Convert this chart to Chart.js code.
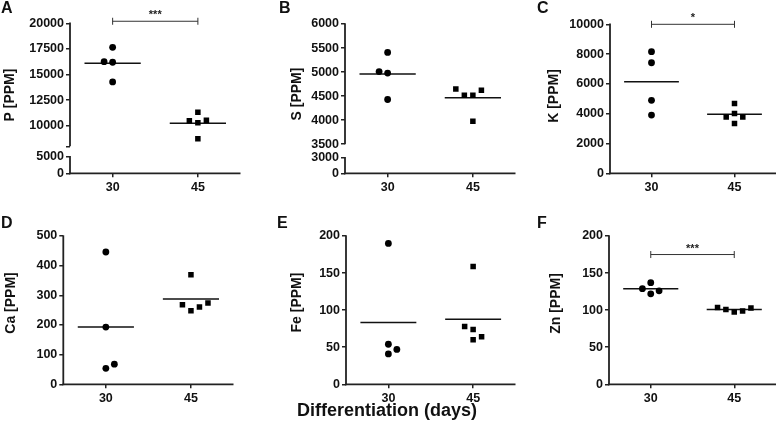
<!DOCTYPE html>
<html>
<head>
<meta charset="utf-8">
<script src="https://cdn.jsdelivr.net/npm/chart.js@4.4.0/dist/chart.umd.min.js"></script>
<style>
  body { margin: 0; background: #fff; }
  #fig { position: relative; width: 781px; height: 435px; overflow: hidden;
         font-family: 'Liberation Sans', Arial, sans-serif; font-weight: bold; color: #111; }
  #fig canvas { position: absolute; }
  .lbl { position: absolute; font-size: 16px; line-height: 1; }
  #xt { position: absolute; left: 387px; top: 401px; transform: translateX(-50%);
        font-size: 18px; line-height: 1; white-space: nowrap; }
</style>
</head>
<body>
<div id="fig">
  <canvas id="cA" width="260" height="200" style="left:0;top:0"></canvas>
  <canvas id="cB" width="260" height="200" style="left:260px;top:0"></canvas>
  <canvas id="cC" width="261" height="200" style="left:520px;top:0"></canvas>
  <canvas id="cD" width="260" height="210" style="left:0;top:200px"></canvas>
  <canvas id="cE" width="260" height="210" style="left:260px;top:200px"></canvas>
  <canvas id="cF" width="261" height="210" style="left:520px;top:200px"></canvas>
  <div class="lbl" style="left:1px;top:0">A</div>
  <div class="lbl" style="left:279px;top:0">B</div>
  <div class="lbl" style="left:537px;top:0">C</div>
  <div class="lbl" style="left:1px;top:215px">D</div>
  <div class="lbl" style="left:277px;top:215px">E</div>
  <div class="lbl" style="left:537px;top:215px">F</div>
  <div id="xt">Differentiation (days)</div>
</div>
<script>
// groups on the x axis
const days = ['30', '45'];

// P
const p30 = [17660, 16260, 16200, 14280];
const p45 = [11330, 10490, 10290, 10550, 8730];
const p30Jit = [0, -0.1, 0, 0];
const p45Jit = [0, -0.1, 0, 0.1, 0];
const pMeans = [16100, 10260];
const pTicks = [8000, 10000, 12500, 15000, 17500, 20000];
const pTickLabels = ['', '10000', '12500', '15000', '17500', '20000'];
const pLowTicks = [0, 5000];
const pLowLabels = ['0', '5000'];

// S
const s30 = [5410, 5010, 4980, 4430];
const s45 = [4650, 4520, 4520, 4625, 3980];
const s30Jit = [0, -0.1, 0, 0];
const s45Jit = [-0.2, -0.1, 0, 0.1, 0];
const sMeans = [4958, 4465];
const sTicks = [3500, 4000, 4500, 5000, 5500, 6000];
const sTickLabels = ['3500', '4000', '4500', '5000', '5500', '6000'];
const sLowTicks = [0, 3000];
const sLowLabels = ['0', '3000'];

// K
const k30 = [8160, 7420, 4900, 3910];
const k45 = [4680, 3780, 4010, 3780, 3340];
const k30Jit = [0, 0, 0, 0];
const k45Jit = [0, -0.1, 0, 0.1, 0];
const kMeans = [6150, 3960];
const kTicks = [0, 2000, 4000, 6000, 8000, 10000];
const kTickLabels = ['0', '2000', '4000', '6000', '8000', '10000'];

// Ca
const ca30 = [446, 193, 54, 68];
const ca45 = [369, 268, 248, 261, 274];
const ca30Jit = [0, 0, 0, 0.1];
const ca45Jit = [0, -0.1, 0, 0.1, 0.2];
const caMeans = [193, 288];
const caTicks = [0, 100, 200, 300, 400, 500];
const caTickLabels = ['0', '100', '200', '300', '400', '500'];

// Fe
const fe30 = [190, 54, 41, 47];
const fe45 = [159, 78, 74, 60, 64];
const fe30Jit = [0, 0, 0, 0.1];
const fe45Jit = [0, -0.1, 0, 0, 0.1];
const feMeans = [83.5, 87.6];
const feTicks = [0, 50, 100, 150, 200];
const feTickLabels = ['0', '50', '100', '150', '200'];

// Zn
const zn30 = [137, 129, 122, 126];
const zn45 = [103.5, 100.8, 97.4, 98.7, 102.8];
const zn30Jit = [0, -0.1, 0, 0.1];
const zn45Jit = [-0.2, -0.1, 0, 0.1, 0.2];
const znMeans = [129, 100.8];
const znTicks = [0, 50, 100, 150, 200];
const znTickLabels = ['0', '50', '100', '150', '200'];

// significance brackets
const pSig = 20200, pSigText = '***';
const kSig = 10000, kSigText = '*';
const znSig = 175, znSigText = '***';

const FONT = "'Liberation Sans', Arial, sans-serif";
const AXIS = '#222';
Chart.defaults.font.family = FONT;
Chart.defaults.font.weight = 'bold';
Chart.defaults.color = '#111';

function pts(vals, jit, pos) {
  return vals.map((v, i) => ({ x: pos + jit[i], y: v }));
}

function meanLine(pos, m) {
  return {
    data: [{ x: pos - 0.33, y: m }, { x: pos + 0.33, y: m }],
    showLine: true, pointRadius: 0, borderColor: '#111', borderWidth: 1.5
  };
}

function yAxis(o, min, max, ticks, labels) {
  return {
    type: 'linear', position: 'left', min: min, max: max,
    afterBuildTicks: s => { s.ticks = ticks.map(v => ({ value: v })); },
    afterFit: s => { s.width = o.area[0]; },
    grid: { display: true, drawOnChartArea: false, drawTicks: true, tickLength: 4, lineWidth: 1.5, color: AXIS },
    border: { display: false },
    ticks: { autoSkip: false, padding: 2, color: '#111', font: { size: 12.5, weight: 'bold' },
             callback: (v, i) => labels[i] }
  };
}

function line(ctx, x1, y1, x2, y2) {
  ctx.beginPath();
  ctx.moveTo(x1, y1);
  ctx.lineTo(x2, y2);
  ctx.stroke();
}

function panel(id, o) {
  const canvas = document.getElementById(id);
  const W = canvas.width, H = canvas.height;
  const [left, top, right, bottom] = o.area;

  const datasets = [
    { data: pts(o.d30, o.j30, 1), pointStyle: 'circle', pointRadius: 3.4, backgroundColor: '#000', borderWidth: 0 },
    { data: pts(o.d45, o.j45, 2), pointStyle: 'rect', pointRadius: 3.9, backgroundColor: '#000', borderWidth: 0 },
    meanLine(1, o.means[0]),
    meanLine(2, o.means[1])
  ];
  if (o.sig !== undefined) {
    datasets.push({
      data: [{ x: 1, y: o.sig }, { x: 2, y: o.sig }],
      showLine: true, clip: false, borderColor: '#333', borderWidth: 1,
      pointStyle: 'line', pointRotation: 90, pointRadius: 3.5,
      pointBorderColor: '#333', pointBorderWidth: 1
    });
  }

  const scales = {
    x: {
      type: 'linear', min: 0.5, max: 2.5,
      afterBuildTicks: s => { s.ticks = [{ value: 1 }, { value: 2 }]; },
      afterFit: s => { s.height = H - bottom; },
      grid: { display: true, drawOnChartArea: false, drawTicks: true, tickLength: 4, lineWidth: 1.5, color: AXIS },
      border: { display: false },
      ticks: { autoSkip: false, padding: 3, color: '#111', font: { size: 12.5, weight: 'bold' },
               maxRotation: 0, callback: (v, i) => days[i] }
    },
    y: yAxis(o, o.min, o.max, o.ticks, o.labels)
  };
  if (o.low) {
    Object.assign(scales.y, { stack: 'brk', stackWeight: o.low.topW, weight: 2 });
    scales.yLow = Object.assign(yAxis(o, 0, o.low.max, o.low.ticks, o.low.labels),
      { stack: 'brk', stackWeight: o.low.lowW, weight: 1 });
  }

  const extras = {
    id: 'extras',
    beforeDatasetsDraw(chart) {
      // axis lines, with a gap where the y axis is broken
      const ctx = chart.ctx;
      const ys = chart.scales.y, xs = chart.scales.x;
      ctx.save();
      ctx.strokeStyle = AXIS;
      ctx.lineWidth = 1.8;
      line(ctx, ys.right, ys.top - 0.75, ys.right, o.low ? ys.bottom : ys.bottom + 0.9);
      if (o.low) {
        const lo = chart.scales.yLow;
        line(ctx, lo.right, lo.getPixelForValue(o.low.ticks[o.low.ticks.length - 1]) - 0.75, lo.right, lo.bottom + 0.9);
      }
      line(ctx, xs.left - 0.9, xs.top, xs.right, xs.top);
      ctx.restore();
    },
    afterDraw(chart) {
      const ctx = chart.ctx;
      const ys = chart.scales.y, xs = chart.scales.x;
      // significance stars
      if (o.sig !== undefined) {
        ctx.save();
        ctx.fillStyle = '#222';
        ctx.font = 'bold 11px ' + FONT;
        ctx.textAlign = 'center';
        ctx.textBaseline = 'alphabetic';
        ctx.fillText(o.sigText, xs.getPixelForValue(1.5), ys.getPixelForValue(o.sig) - 3);
        ctx.restore();
      }
      // y title
      ctx.save();
      ctx.translate(o.title[1], o.title[2]);
      ctx.rotate(-Math.PI / 2);
      ctx.fillStyle = '#111';
      ctx.font = 'bold 14px ' + FONT;
      ctx.textAlign = 'center';
      ctx.textBaseline = 'middle';
      ctx.fillText(o.title[0], 0, 0);
      ctx.restore();
    }
  };

  new Chart(canvas, {
    type: 'scatter',
    data: { datasets: datasets },
    options: {
      responsive: false, animation: false, events: [],
      layout: { padding: { left: 0, top: top, right: W - right, bottom: 0 } },
      plugins: { legend: { display: false }, tooltip: { enabled: false } },
      scales: scales
    },
    plugins: [extras]
  });
}

panel('cA', {
  area: [70, 23.3, 240.5, 173.3], title: ['P [PPM]', 10, 95],
  d30: p30, d45: p45, j30: p30Jit, j45: p45Jit, means: pMeans,
  min: 8000, max: 20000, ticks: pTicks, labels: pTickLabels,
  low: { max: 8130, ticks: pLowTicks, labels: pLowLabels, topW: 123, lowW: 27 },
  sig: pSig, sigText: pSigText
});
panel('cB', {
  area: [85, 24, 255.5, 173.3], title: ['S [PPM]', 37, 94],
  d30: s30, d45: s45, j30: s30Jit, j45: s45Jit, means: sMeans,
  min: 3500, max: 6000, ticks: sTicks, labels: sTickLabels,
  low: { max: 5580, ticks: sLowTicks, labels: sLowLabels, topW: 120, lowW: 29 }
});
panel('cC', {
  area: [90, 24.3, 260.5, 173.3], title: ['K [PPM]', 34, 96],
  d30: k30, d45: k45, j30: k30Jit, j45: k45Jit, means: kMeans,
  min: 0, max: 10000, ticks: kTicks, labels: kTickLabels,
  sig: kSig, sigText: kSigText
});
panel('cD', {
  area: [63.3, 36, 233.5, 184.3], title: ['Ca [PPM]', 11, 103],
  d30: ca30, d45: ca45, j30: ca30Jit, j45: ca45Jit, means: caMeans,
  min: 0, max: 500, ticks: caTicks, labels: caTickLabels
});
panel('cE', {
  area: [86, 36, 255.5, 184.3], title: ['Fe [PPM]', 37, 102.5],
  d30: fe30, d45: fe45, j30: fe30Jit, j45: fe45Jit, means: feMeans,
  min: 0, max: 200, ticks: feTicks, labels: feTickLabels
});
panel('cF', {
  area: [89, 36, 258.5, 184.3], title: ['Zn [PPM]', 36, 103.5],
  d30: zn30, d45: zn45, j30: zn30Jit, j45: zn45Jit, means: znMeans,
  min: 0, max: 200, ticks: znTicks, labels: znTickLabels,
  sig: znSig, sigText: znSigText
});
</script>
</body>
</html>
